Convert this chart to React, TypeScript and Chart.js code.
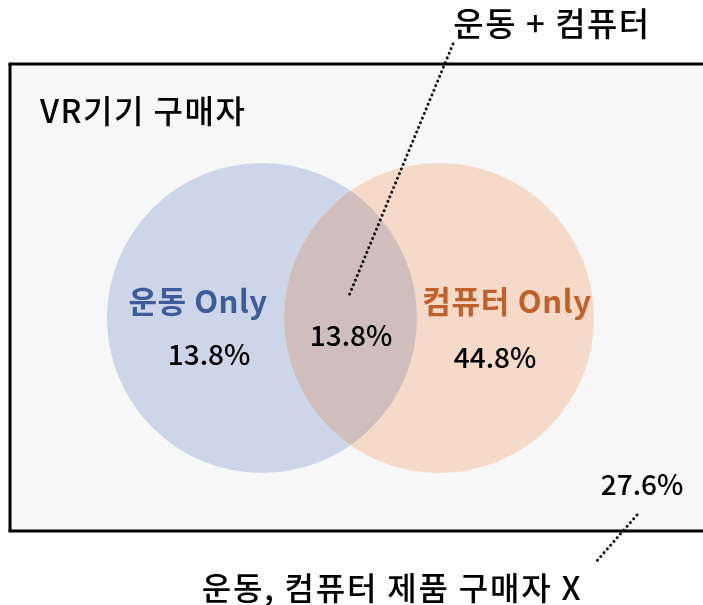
import React, { useEffect, useRef } from "react";
import { Chart, registerables } from "chart.js";

Chart.register(...registerables);

// ---- data ----
const title = "VR기기 구매자";
const setNames = ["운동 Only", "운동 + 컴퓨터", "컴퓨터 Only"];
const setValues = [13.8, 13.8, 44.8];
const outsideName = "운동, 컴퓨터 제품 구매자 X";
const outsideValue = 27.6;

// ---- layout (diagram units == canvas px via scales) ----
const W = 703;
const H = 605;
const FONT = '"Noto Sans CJK KR", "Noto Sans", sans-serif';

export default function App() {
  const ref = useRef<HTMLCanvasElement | null>(null);

  useEffect(() => {
    document.body.style.margin = "0";
    document.body.style.overflow = "hidden";
    const canvas = ref.current!;
    const fmt = (v: number) => v.toFixed(1) + "%";

    const venn = {
      id: "venn",
      beforeDatasetsDraw(chart: any) {
        const { ctx } = chart;
        const xs = chart.scales.x;
        const ys = chart.scales.y;
        const px = (v: number) => xs.getPixelForValue(v);
        const py = (v: number) => ys.getPixelForValue(v);
        const len = (v: number) => xs.getPixelForValue(v) - xs.getPixelForValue(0);
        const right = 760;

        const blue = { x: 262, y: 318, r: 155 };
        const orange = { x: 439, y: 318, r: 155 };

        ctx.save();
        // frame background
        ctx.fillStyle = "#f7f7f7";
        ctx.fillRect(px(10), py(64), right, py(531) - py(64));

        const circ = (c: any) => {
          ctx.beginPath();
          ctx.arc(px(c.x), py(c.y), len(c.r), 0, Math.PI * 2);
        };
        circ(blue);
        ctx.fillStyle = "#cdd5e8";
        ctx.fill();
        circ(orange);
        ctx.fillStyle = "#f5d9c9";
        ctx.fill();
        // overlap
        ctx.save();
        circ(blue);
        ctx.clip();
        circ(orange);
        ctx.fillStyle = "#cfbebc";
        ctx.fill();
        ctx.restore();

        // frame border: three separate strokes, right side runs off the picture
        ctx.strokeStyle = "#000";
        ctx.lineWidth = 3;
        const seg = (x1: number, y1: number, x2: number, y2: number) => {
          ctx.beginPath();
          ctx.moveTo(x1, y1);
          ctx.lineTo(x2, y2);
          ctx.stroke();
        };
        seg(px(10) - 1.5, py(64), right, py(64));
        seg(px(10), py(64), px(10), py(531));
        seg(px(10) - 1.5, py(531), right, py(531));

        // dotted leader lines
        const dotted = (x1: number, y1: number, x2: number, y2: number) => {
          ctx.save();
          ctx.beginPath();
          ctx.setLineDash([0.01, 5]);
          ctx.lineCap = "round";
          ctx.lineWidth = 3;
          ctx.strokeStyle = "#111";
          ctx.moveTo(px(x1), py(y1));
          ctx.lineTo(px(x2), py(y2));
          ctx.stroke();
          ctx.restore();
        };
        dotted(453, 44, 348, 298);
        dotted(637, 515, 595, 563);

        // texts
        ctx.textBaseline = "middle";
        const text = (
          s: string,
          x: number,
          y: number,
          size: number,
          color: string,
          weight = "500",
          spacing = 0,
          align: CanvasTextAlign = "center"
        ) => {
          ctx.font = `${weight} ${size}px ${FONT}`;
          (ctx as any).letterSpacing = `${spacing}px`;
          ctx.fillStyle = color;
          ctx.textAlign = align;
          ctx.fillText(s, px(x), py(y));
        };
        text(title, 40, 111, 32, "#000", "500", 1.5, "left");
        text(setNames[1], 552, 23, 33, "#000", "500", 1.5);
        text(setNames[0], 198, 301, 31, "#3e5b9a", "bold", 0.5);
        text(fmt(setValues[0]), 209, 354, 28, "#000");
        text(fmt(setValues[1]), 351, 335, 28, "#000");
        text(setNames[2], 507, 301, 31, "#c0602a", "bold", 0.7);
        text(fmt(setValues[2]), 495, 357, 28, "#000");
        text(fmt(outsideValue), 642, 484, 28, "#000");
        text(outsideName, 392, 588, 32, "#000", "500", 1.8);
        (ctx as any).letterSpacing = "0px";
        ctx.restore();
      },
    };

    const chart = new Chart(canvas, {
      type: "scatter",
      data: {
        datasets: [
          {
            data: [],
            pointRadius: 0,
          },
        ],
      },
      options: {
        responsive: false,
        animation: false,
        layout: { padding: 0 },
        scales: {
          x: { type: "linear", min: 0, max: W, display: false },
          y: { type: "linear", min: 0, max: H, reverse: true, display: false },
        },
        plugins: { legend: { display: false }, tooltip: { enabled: false } },
      },
      plugins: [venn],
    });
    return () => chart.destroy();
  }, []);

  return (
    <div style={{ width: W, height: H, background: "#fff" }}>
      <canvas ref={ref} width={W} height={H} style={{ display: "block" }} />
    </div>
  );
}
